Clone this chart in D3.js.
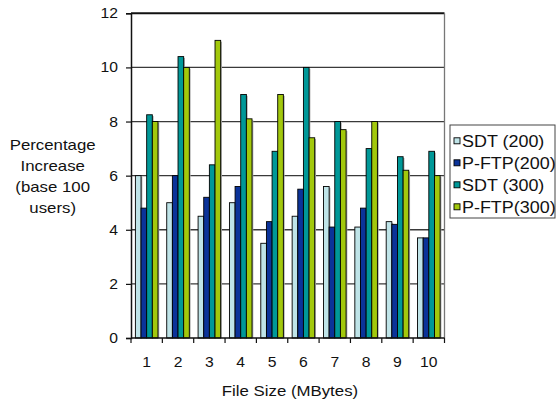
<!DOCTYPE html>
<html>
<head>
<meta charset="utf-8">
<script src="https://cdn.jsdelivr.net/npm/d3@7"></script>
<style>
  html, body { margin: 0; padding: 0; background: #fff; }
  svg { display: block; font-family: "Liberation Sans", Arial, Helvetica, sans-serif; }
</style>
</head>
<body>
<svg id="chart" width="556" height="403"></svg>
<script>
// File sizes (MBytes) on the x axis
const fileSizes = ["1", "2", "3", "4", "5", "6", "7", "8", "9", "10"];
// Series names, as shown in the legend
const seriesNames = ["SDT (200)", "P-FTP(200)", "SDT (300)", "P-FTP(300)"];
// Percentage increase over the 100-user base, one array per series
const sdt200  = [6.0, 5.0, 4.5, 5.0, 3.5, 4.5, 5.6, 4.1, 4.3, 3.7];
const pftp200 = [4.8, 6.0, 5.2, 5.6, 4.3, 5.5, 4.1, 4.8, 4.2, 3.7];
const sdt300  = [8.25, 10.4, 6.4, 9.0, 6.9, 10.0, 8.0, 7.0, 6.7, 6.9];
const pftp300 = [8.0, 10.0, 11.0, 8.1, 9.0, 7.4, 7.7, 8.0, 6.2, 6.0];
const yTicks  = [0, 2, 4, 6, 8, 10, 12];
const yLabelLines = ["Percentage", "Increase", "(base 100", "users)"];
const xTitle = "File Size (MBytes)";

const seriesValues = [sdt200, pftp200, sdt300, pftp300];
const colors = ["#bfe4e8", "#0b3399", "#009898", "#a2c80c"];

const svg = d3.select("#chart");
const X0 = 131, X1 = 444.5, Y0 = 338, YTOP = 13.3;
const STRETCH = 1.12;

// widen text glyphs slightly, keeping them as real text
function widen(sel) {
  sel.each(function () {
    const len = this.getComputedTextLength();
    d3.select(this).attr("textLength", len * STRETCH).attr("lengthAdjust", "spacingAndGlyphs");
  });
}

const x = d3.scaleBand().domain(fileSizes).range([X0, X1]).paddingInner(0.28).paddingOuter(0.14);
const xs = d3.scaleBand().domain(d3.range(seriesNames.length)).range([0, x.bandwidth()]).padding(0);
const y = d3.scaleLinear().domain([0, 12]).range([Y0, YTOP]);

// gridlines
svg.append("g").selectAll("line").data(yTicks.filter(t => t > 0 && t < 12)).join("line")
  .attr("x1", X0).attr("x2", X1)
  .attr("y1", d => y(d)).attr("y2", d => y(d))
  .attr("stroke", "#3a3a3a").attr("stroke-width", 1.3);

// frame: top and right borders
svg.append("line").attr("x1", X0).attr("x2", X1).attr("y1", y(12)).attr("y2", y(12))
  .attr("stroke", "#111").attr("stroke-width", 2);
svg.append("line").attr("x1", X1).attr("x2", X1).attr("y1", y(12)).attr("y2", Y0)
  .attr("stroke", "#777").attr("stroke-width", 1.3);

const barData = [];
fileSizes.forEach((c, i) => {
  seriesValues.forEach((vals, s) => barData.push({ c, s, v: vals[i] }));
});

// bar shadows
svg.append("g").selectAll("rect").data(barData).join("rect")
  .attr("x", d => x(d.c) + xs(d.s) + 1.3)
  .attr("y", d => y(d.v) + 1.3)
  .attr("width", xs.bandwidth())
  .attr("height", d => Y0 - y(d.v) - 1.3)
  .attr("fill", "#a8a8a8");

// bars
svg.append("g").selectAll("rect").data(barData).join("rect")
  .attr("x", d => x(d.c) + xs(d.s))
  .attr("y", d => y(d.v))
  .attr("width", xs.bandwidth())
  .attr("height", d => Y0 - y(d.v))
  .attr("fill", d => colors[d.s])
  .attr("stroke", "#000").attr("stroke-width", 0.9);

// y axis
const yAxis = svg.append("g").attr("transform", `translate(${X0},0)`)
  .call(d3.axisLeft(y).tickValues(yTicks).tickSize(5).tickPadding(8).tickFormat(d3.format("d")));
yAxis.select(".domain").attr("stroke", "#111").attr("stroke-width", 1.5);
yAxis.selectAll(".tick line").attr("stroke", "#111").attr("stroke-width", 1.2);
yAxis.selectAll("text").attr("font-size", 14).attr("font-family", "Liberation Sans, Arial, sans-serif")
  .attr("fill", "#111").call(widen);

// x axis line with ticks at category boundaries
svg.append("line").attr("x1", X0).attr("x2", X1).attr("y1", Y0).attr("y2", Y0)
  .attr("stroke", "#111").attr("stroke-width", 1.5);
const bounds = fileSizes.map(c => x(c) - x.step() * 0.14).concat([X1]);
svg.append("g").selectAll("line").data(bounds).join("line")
  .attr("x1", d => d).attr("x2", d => d).attr("y1", Y0).attr("y2", Y0 + 5)
  .attr("stroke", "#111").attr("stroke-width", 1.2);
svg.append("g").selectAll("text").data(fileSizes).join("text")
  .attr("x", d => x(d) + x.bandwidth() / 2)
  .attr("y", 367)
  .attr("text-anchor", "middle").attr("font-size", 14).attr("fill", "#111")
  .text(d => d).call(widen);

// axis titles
svg.append("text").attr("x", 290).attr("y", 395.5).attr("text-anchor", "middle")
  .attr("font-size", 15).attr("fill", "#111").text(xTitle).call(widen);
svg.append("g").selectAll("text").data(yLabelLines).join("text")
  .attr("x", 52.7).attr("y", (d, i) => 150 + i * 21)
  .attr("text-anchor", "middle").attr("font-size", 15).attr("fill", "#111")
  .text(d => d).call(widen);

// legend
const lg = svg.append("g");
lg.append("rect").attr("x", 450).attr("y", 125).attr("width", 105).attr("height", 93)
  .attr("fill", "#fff").attr("stroke", "#444").attr("stroke-width", 1);
const items = lg.selectAll("g.item").data(seriesNames).join("g")
  .attr("transform", (d, i) => `translate(0,${140.8 + i * 22})`);
items.append("rect").attr("x", 454).attr("y", -3).attr("width", 6).attr("height", 6)
  .attr("fill", (d, i) => colors[i]).attr("stroke", "#000").attr("stroke-width", 0.9);
items.append("text").attr("x", 462).attr("y", 0).attr("dy", "0.36em")
  .attr("font-size", 16).attr("fill", "#111").text(d => d).call(widen);
</script>
</body>
</html>
